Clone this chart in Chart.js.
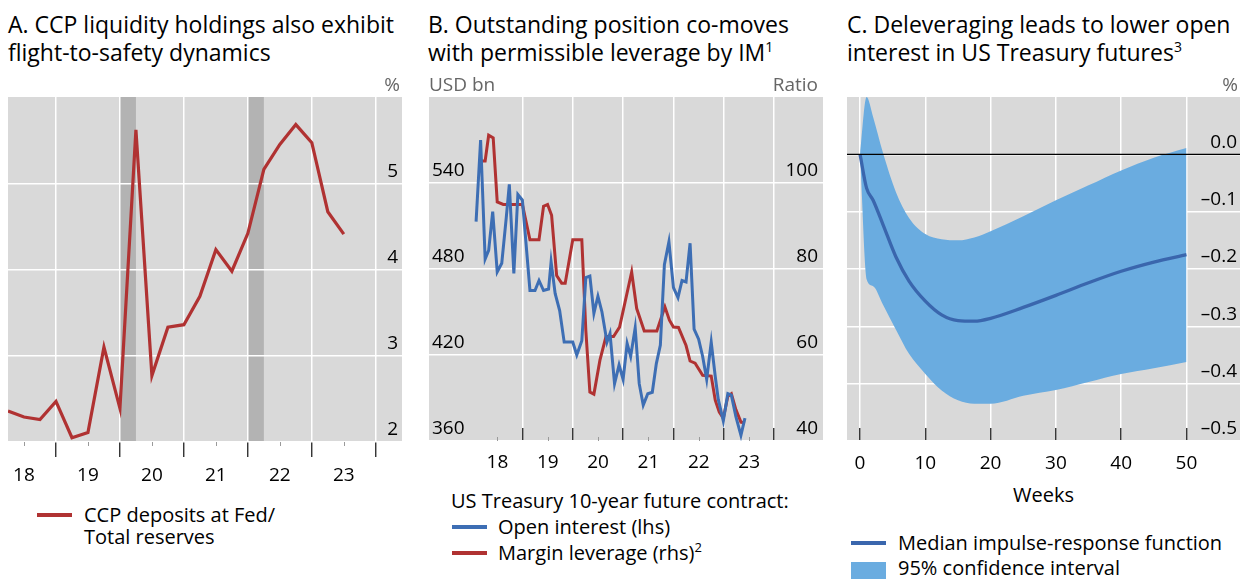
<!DOCTYPE html>
<html>
<head>
<meta charset="utf-8">
<script src="https://cdn.jsdelivr.net/npm/chart.js@4.4.1/dist/chart.umd.min.js"></script>
<style>
  body { margin: 0; width: 1240px; height: 579px; background: #fff; overflow: hidden; position: relative;
         font-family: "Open Sans", sans-serif; color: #000; }
  canvas { position: absolute; }
  .title { position: absolute; font-size: 23px; line-height: 28px; white-space: nowrap; }
  .title sup { font-size: 14px; line-height: 0; vertical-align: 9px; }
  .unit { position: absolute; font-size: 19px; line-height: 20px; color: #666; white-space: nowrap; }
  .lg { position: absolute; font-size: 20px; line-height: 22px; white-space: nowrap; }
  .lg sup { font-size: 13px; line-height: 0; vertical-align: 8px; }
  .sw { position: absolute; width: 35px; height: 4px; }
</style>
</head>
<body>

<canvas id="chartA" width="410" height="413" style="left:0;top:77px"></canvas>
<canvas id="chartB" width="415" height="403" style="left:415px;top:77px"></canvas>
<canvas id="chartC" width="410" height="403" style="left:830px;top:77px"></canvas>

<div class="title" style="left:8px;top:10px">A. CCP liquidity holdings also exhibit<br>flight-to-safety dynamics</div>
<div class="title" style="left:428px;top:10px">B. Outstanding position co-moves<br>with permissible leverage by IM<sup>1</sup></div>
<div class="title" style="left:847px;top:10px">C. Deleveraging leads to lower open<br>interest in US Treasury futures<sup>3</sup></div>

<div class="unit" style="right:840px;top:74px">%</div>
<div class="unit" style="left:429px;top:74px">USD bn</div>
<div class="unit" style="right:422px;top:74px">Ratio</div>
<div class="unit" style="right:2px;top:74px">%</div>

<div class="sw" style="left:37px;top:513px;background:#b03232"></div>
<div class="lg" style="left:84px;top:504px">CCP deposits at Fed/</div>
<div class="lg" style="left:84px;top:526px">Total reserves</div>

<div class="lg" style="left:451px;top:490px">US Treasury 10-year future contract:</div>
<div class="sw" style="left:452px;top:525px;background:#3d6eb4"></div>
<div class="lg" style="left:498px;top:516px">Open interest (lhs)</div>
<div class="sw" style="left:452px;top:551px;background:#b03232"></div>
<div class="lg" style="left:498px;top:542px">Margin leverage (rhs)<sup>2</sup></div>

<div class="lg" style="left:1013px;top:484px">Weeks</div>
<div class="sw" style="left:851px;top:541px;background:#3a66ad"></div>
<div class="lg" style="left:898px;top:532px">Median impulse-response function</div>
<div class="sw" style="left:851px;top:562px;height:17px;background:#6aace0"></div>
<div class="lg" style="left:898px;top:557px">95% confidence interval</div>

<script>
// Panel A: CCP deposits at Fed / total reserves, quarter ends
const quarterEnds = [2018.25, 2018.5, 2018.75, 2019.0, 2019.25, 2019.5, 2019.75, 2020.0,
                     2020.25, 2020.5, 2020.75, 2021.0, 2021.25, 2021.5, 2021.75, 2022.0,
                     2022.25, 2022.5, 2022.75, 2023.0, 2023.25, 2023.5];
const ccpShare = [2.36, 2.29, 2.26, 2.47, 2.05, 2.11, 3.10, 2.39,
                  5.62, 2.77, 3.33, 3.36, 3.69, 4.23, 3.98, 4.42,
                  5.16, 5.45, 5.68, 5.47, 4.67, 4.41];
const stressStart = [2020.0, 2022.0];
const stressEnd = [2020.25, 2022.25];

// Panel B: US Treasury 10-year future contract
const oiDates = [2018.08, 2018.17, 2018.26, 2018.33, 2018.41, 2018.50, 2018.59, 2018.68,
                 2018.74, 2018.83, 2018.91, 2019.00, 2019.15, 2019.25, 2019.33, 2019.42,
                 2019.52, 2019.57, 2019.65, 2019.74, 2019.83, 2020.00, 2020.08, 2020.18,
                 2020.26, 2020.34, 2020.42, 2020.50, 2020.58, 2020.68, 2020.74, 2020.83,
                 2020.92, 2021.00, 2021.08, 2021.15, 2021.24, 2021.32, 2021.40, 2021.49,
                 2021.58, 2021.66, 2021.74, 2021.82, 2021.91, 2022.00, 2022.09, 2022.17,
                 2022.25, 2022.33, 2022.41, 2022.50, 2022.58, 2022.66, 2022.75, 2022.83,
                 2022.89, 2022.99, 2023.08, 2023.15, 2023.24, 2023.34, 2023.42];
const openInterest = [513, 570, 487, 493, 520, 478, 484, 516,
                      539, 477, 532, 528, 465, 465, 472, 465,
                      466, 485, 463, 451, 429, 429, 420, 430,
                      474, 475, 449, 461, 450, 429, 435, 400,
                      413, 403, 428, 419, 439, 400, 385, 393,
                      394, 414, 427, 483, 499, 467, 460, 472,
                      471, 498, 438, 431, 419, 403, 429, 405,
                      389, 374, 393, 392, 377, 364, 376];
const levDates = [2018.16, 2018.26, 2018.33, 2018.42, 2018.50, 2018.62, 2019.00, 2019.15,
                  2019.33, 2019.42, 2019.50, 2019.58, 2019.68, 2019.78, 2019.85, 2020.00,
                  2020.18, 2020.26, 2020.34, 2020.42, 2020.54, 2020.66, 2020.81, 2020.93,
                  2021.17, 2021.27, 2021.42, 2021.67, 2021.83, 2021.92, 2022.00, 2022.10,
                  2022.25, 2022.33, 2022.43, 2022.58, 2022.75, 2022.83, 2022.91, 2022.99,
                  2023.08, 2023.15, 2023.24, 2023.34, 2023.42];
const marginLeverage = [105.1, 105.1, 111.1, 110.5, 95.6, 95.0, 95.0, 86.8,
                        86.8, 94.6, 95.0, 92.5, 78.5, 76.7, 76.7, 86.8,
                        86.8, 65.7, 51.4, 50.9, 58.8, 64.3, 64.3, 66.5,
                        79.3, 70.8, 65.6, 65.6, 71.2, 68.1, 66.5, 66.4,
                        62.2, 58.6, 58.1, 55.3, 55.1, 49.5, 46.7, 45.3,
                        50.4, 51.0, 47.3, 44.4, 44.2];

// Panel C: impulse response of open interest to deleveraging
const weeks = [0, 1, 2, 3.5, 5.5, 7.5, 10, 12.5, 15, 17.5, 20, 25, 30, 35, 40, 45, 50];
const irfMedian = [0, -0.059, -0.080, -0.122, -0.179, -0.221, -0.256, -0.280, -0.290,
                   -0.291, -0.286, -0.267, -0.246, -0.224, -0.204, -0.188, -0.175];
const ciUpper = [0, 0.100, 0.065, 0.003, -0.066, -0.111, -0.139, -0.148, -0.150,
                 -0.145, -0.134, -0.108, -0.080, -0.054, -0.028, -0.006, 0.011];
const ciLower = [0, -0.218, -0.230, -0.262, -0.306, -0.348, -0.383, -0.412, -0.429,
                 -0.435, -0.435, -0.421, -0.411, -0.397, -0.383, -0.373, -0.362];

// axis ticks and labels
const yearTicks = [2019, 2020, 2021, 2022, 2023, 2024];
const midYears = [2018.5, 2019.5, 2020.5, 2021.5, 2022.5, 2023.5];
const yearLabels = ['18', '19', '20', '21', '22', '23'];
const weekTicks = [0, 10, 20, 30, 40, 50];
const ticksA = [2, 3, 4, 5];
const ticksBL = [360, 420, 480, 540];
const ticksBR = [40, 60, 80, 100];
const ticksC = [-0.5, -0.4, -0.3, -0.2, -0.1, 0];

const FONT = { family: '"Open Sans", sans-serif', size: 19 };
const RED = '#b03232', BLUE = '#3d6eb4';

const pts = (xs, ys) => xs.map((x, i) => ({ x: x, y: ys[i] }));

function yAxis(pos, min, max, ticks, fmt, pad, show) {
  return {
    position: pos, min: min, max: max,
    afterBuildTicks: s => { s.ticks = ticks.map(v => ({ value: v })); },
    grid: { display: show, color: '#fff', lineWidth: 1.5, drawTicks: false },
    border: { display: false },
    ticks: { mirror: true, padding: pad, labelOffset: -12, font: FONT, color: '#000', callback: fmt },
    afterFit: s => { s.width = 0; s.paddingTop = 0; s.paddingBottom = 0; }
  };
}

function xAxis(min, max, ticks, fmt, offset, tickLen, pad, h) {
  return {
    type: 'linear', min: min, max: max,
    afterBuildTicks: s => { s.ticks = ticks.map(v => ({ value: v })); },
    grid: { color: '#fff', lineWidth: 1.5, tickLength: tickLen, tickColor: '#222', tickWidth: 1.3 },
    border: { display: false },
    ticks: { autoSkip: false, maxRotation: 0, labelOffset: offset, padding: pad, font: FONT, color: '#000', callback: fmt },
    afterFit: s => { s.height = h; s.paddingLeft = 0; s.paddingRight = 0; }
  };
}

// grey plot area, plus optional shaded periods
const plotBg = {
  id: 'plotBg',
  beforeDraw(chart, args, opts) {
    const { ctx, chartArea: a, scales } = chart;
    ctx.save();
    ctx.fillStyle = '#d9d9d9';
    ctx.fillRect(a.left, a.top, a.width, a.height);
    ctx.fillStyle = '#b3b3b3';
    (opts.starts || []).forEach((s, i) => {
      const x1 = scales.x.getPixelForValue(s);
      const x2 = scales.x.getPixelForValue(opts.ends[i]);
      ctx.fillRect(x1, a.top, x2 - x1, a.height);
    });
    ctx.restore();
  }
};

// short minor marks at mid-year on the x axis (len > 0 goes down, < 0 goes up)
const minorTicks = {
  id: 'minorTicks',
  afterDraw(chart, args, opts) {
    if (!opts.at) return;
    const { ctx, chartArea: a, scales } = chart;
    ctx.save();
    ctx.strokeStyle = opts.color;
    ctx.lineWidth = 1;
    opts.at.forEach(v => {
      const px = Math.round(scales.x.getPixelForValue(v)) + 0.5;
      ctx.beginPath();
      ctx.moveTo(px, a.bottom);
      ctx.lineTo(px, a.bottom + opts.len);
      ctx.stroke();
    });
    ctx.restore();
  }
};

const zeroLine = {
  id: 'zeroLine',
  afterDatasetsDraw(chart) {
    const { ctx, chartArea: a, scales } = chart;
    const py = scales.y.getPixelForValue(0);
    ctx.save();
    ctx.strokeStyle = '#000';
    ctx.lineWidth = 1.3;
    ctx.beginPath();
    ctx.moveTo(a.left, py);
    ctx.lineTo(a.right, py);
    ctx.stroke();
    ctx.restore();
  }
};

const base = {
  responsive: false,
  animation: false,
  events: [],
  plugins: { legend: { display: false }, tooltip: { enabled: false } }
};

new Chart(document.getElementById('chartA'), {
  type: 'line',
  data: {
    datasets: [{
      data: pts(quarterEnds, ccpShare),
      borderColor: RED, borderWidth: 3.2, pointRadius: 0, tension: 0
    }]
  },
  options: {
    ...base,
    layout: { padding: { top: 20, left: 8, right: 8, bottom: 0 } },
    plugins: {
      ...base.plugins,
      plotBg: { starts: stressStart, ends: stressEnd },
      minorTicks: { at: midYears, len: 4, color: '#9a9a9a' }
    },
    scales: {
      x: xAxis(2018.25, 2024.41, yearTicks, (v, i) => yearLabels[i], -32, 15, 7, 48),
      y: yAxis('right', 2, 6, ticksA, v => String(v), -4, true)
    }
  },
  plugins: [plotBg, minorTicks]
});

new Chart(document.getElementById('chartB'), {
  type: 'line',
  data: {
    datasets: [
      { data: pts(oiDates, openInterest), yAxisID: 'y', borderColor: BLUE, borderWidth: 3, pointRadius: 0, tension: 0 },
      { data: pts(levDates, marginLeverage), yAxisID: 'y1', borderColor: RED, borderWidth: 3, pointRadius: 0, tension: 0 }
    ]
  },
  options: {
    ...base,
    layout: { padding: { top: 20, left: 14, right: 7, bottom: 0 } },
    plugins: { ...base.plugins, minorTicks: { at: midYears, len: -4, color: '#9a9a9a' } },
    scales: {
      x: xAxis(2017.145, 2024.97, yearTicks, (v, i) => yearLabels[i], -25, -13, 23, 39),
      y: yAxis('left', 360, 600, ticksBL, v => String(v), 3, true),
      y1: yAxis('right', 40, 120, ticksBR, v => String(v), -5, false)
    }
  },
  plugins: [plotBg, minorTicks]
});

new Chart(document.getElementById('chartC'), {
  type: 'line',
  data: {
    datasets: [
      { data: pts(weeks, irfMedian), borderColor: '#3a66ad', borderWidth: 3.3, pointRadius: 0,
        cubicInterpolationMode: 'monotone', fill: false, order: 0 },
      { data: pts(weeks, ciUpper), borderWidth: 0, borderColor: 'rgba(0,0,0,0)', backgroundColor: '#6aace0',
        pointRadius: 0, cubicInterpolationMode: 'monotone', fill: '+1', order: 1 },
      { data: pts(weeks, ciLower), borderWidth: 0, borderColor: 'rgba(0,0,0,0)', pointRadius: 0,
        cubicInterpolationMode: 'monotone', fill: false, order: 2 }
    ]
  },
  options: {
    ...base,
    layout: { padding: { top: 20, left: 17, right: 0, bottom: 0 } },
    scales: {
      x: xAxis(-2, 58.2, weekTicks, v => String(v), 0, -13, 24, 39),
      y: yAxis('right', -0.5, 0.1, ticksC, v => v === 0 ? '0.0' : '\u2013' + Math.abs(v).toFixed(1), -3, true)
    }
  },
  plugins: [plotBg, zeroLine]
});
</script>
</body>
</html>
